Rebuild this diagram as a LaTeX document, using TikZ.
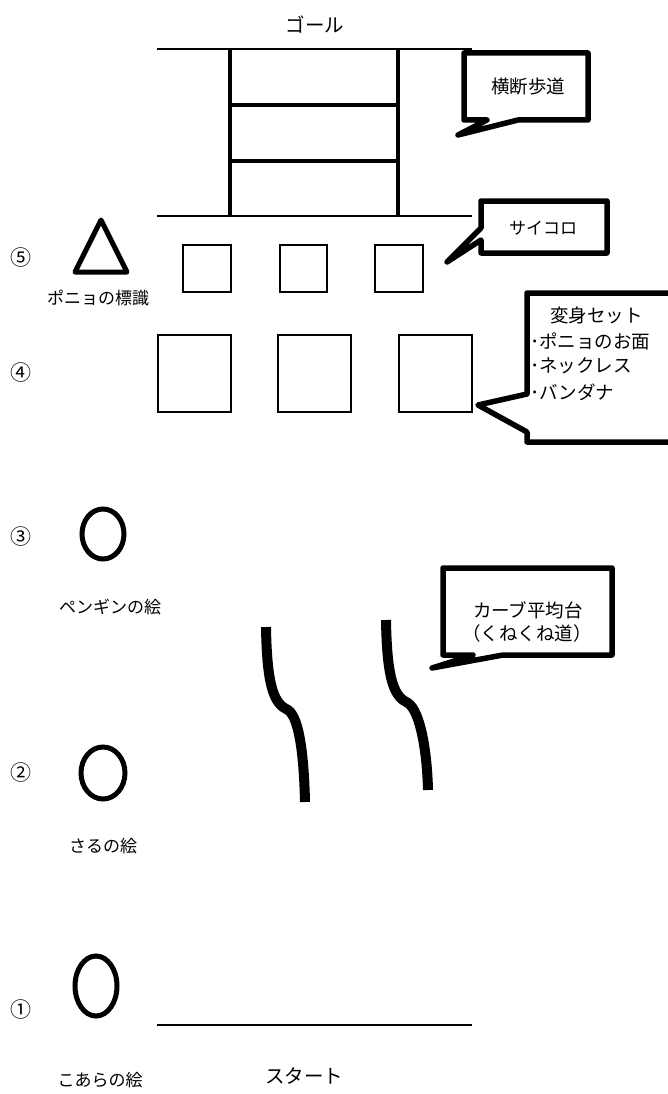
\documentclass[tikz,border=0pt]{standalone}
\usepackage{fontspec}
\setmainfont{Noto Sans CJK JP}
\begin{document}
\begin{tikzpicture}[x=1pt,y=-1pt,
  thinline/.style={line width=1.5pt},
  bar/.style={line width=4pt},
  callout/.style={draw, line width=5.5pt, line join=round, fill=white},
  lab/.style={font=\fontsize{17}{19}\selectfont, inner sep=0pt},
  clab/.style={font=\fontsize{18.5}{20}\selectfont, inner sep=0pt},
  big/.style={font=\fontsize{19.5}{21}\selectfont, inner sep=0pt},
  num/.style={font=\fontsize{21}{22}\selectfont, inner sep=0pt},
  sign/.style={line width=5pt},
  beam/.style={line width=10pt},
  box/.style={draw, line width=1.5pt}]
\useasboundingbox (0,0) rectangle (667,1094);
% goal and crosswalk
\node[big] (goal) at (315,25) {ゴール};
\draw[thinline] (157,49) -- (472,49);
\draw[thinline] (157,216) -- (472,216);
\draw[bar] (230,49) -- (230,216);
\draw[bar] (398,49) -- (398,216);
\draw[bar] (230,105) -- (398,105);
\draw[bar] (230,161) -- (398,161);
% callout crosswalk
\draw[callout] (464,53) -- (588,53) -- (588,120) -- (518,120) -- (458,135) -- (487,120) -- (464,120) -- cycle;
\node[clab] (cw) at (528,87) {横断歩道};
% callout dice
\draw[callout] (481,201) -- (607,201) -- (607,253) -- (481,253) -- (481,240) -- (447,262) -- (481,228) -- cycle;
\node[lab] (dice) at (543,228) {サイコロ};
% row 5
\node[num] (n5) at (21,258) {⑤};
\draw[sign, line join=round] (101,220) -- (127,272) -- (75,272) -- cycle;
\node[lab] (ponyosign) at (98,298) {ポニョの標識};
\draw[box] (183,245) rectangle (231,292);
\draw[box] (280,245) rectangle (327,292);
\draw[box] (375,245) rectangle (423,292);
% row 4
\node[num] (n4) at (21,373) {④};
\draw[box] (158,335) rectangle (231,412);
\draw[box] (278,335) rectangle (351,412);
\draw[box] (399,335) rectangle (472,412);
\draw[callout] (690,293) -- (527,293) -- (527,394) -- (478,405) -- (527,432) -- (527,442) -- (690,442);
\node[clab, anchor=west] (set1) at (550,315) {変身セット};
\node[clab, anchor=west] (set2) at (530,341) {･ポニョのお面};
\node[clab, anchor=west] (set3) at (530,366) {･ネックレス};
\node[clab, anchor=west] (set4) at (530,392) {･バンダナ};
% row 3
\node[num] (n3) at (21,537) {③};
\draw[sign] (103,534) ellipse [x radius=21, y radius=25];
\node[lab] (penguin) at (110,607) {ペンギンの絵};
% balance beam
\draw[beam] (266,627) .. controls (267,690) and (275,704) .. (288,710) .. controls (300,718) and (304,760) .. (305,802);
\draw[beam] (386,620) .. controls (387,683) and (395,697) .. (408,703) .. controls (420,711) and (427,750) .. (428,790);
\draw[callout] (443,568) -- (612,568) -- (612,655) -- (503,655) -- (432,668) -- (473,655) -- (443,655) -- cycle;
\node[clab] (beam1) at (528,610) {カーブ平均台};
\node[clab] (beam2) at (527,633) {（くねくね道）};
% row 2
\node[num] (n2) at (21,773) {②};
\draw[sign] (103,773) ellipse [x radius=22, y radius=26];
\node[lab] (monkey) at (103,846) {さるの絵};
% row 1
\node[num] (n1) at (21,1010) {①};
\draw[sign] (96,986) ellipse [x radius=21, y radius=30];
\draw[thinline] (157,1025) -- (472,1025);
\node[lab] (koala) at (100,1080) {こあらの絵};
\node[big] (start) at (304,1076) {スタート};
\end{tikzpicture}
\end{document}
